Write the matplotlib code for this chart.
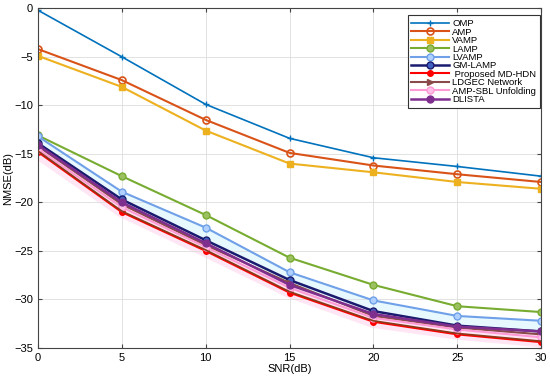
import numpy as np
import matplotlib.pyplot as plt

snr = [0, 5, 10, 15, 20, 25, 30]

omp = [-0.2, -5.0, -9.9, -13.4, -15.4, -16.3, -17.3]
amp = [-4.2, -7.4, -11.5, -14.9, -16.2, -17.1, -17.9]
vamp = [-4.9, -8.1, -12.6, -16.0, -16.9, -17.9, -18.6]
lamp = [-13.1, -17.3, -21.3, -25.7, -28.5, -30.7, -31.3]
lvamp = [-13.2, -18.9, -22.6, -27.2, -30.1, -31.7, -32.2]
gm_lamp = [-13.9, -19.7, -23.9, -28.0, -31.2, -32.7, -33.3]
md_hdn = [-14.8, -21.0, -25.0, -29.3, -32.3, -33.6, -34.4]
ldgec = [-14.2, -20.2, -24.4, -28.3, -31.7, -32.9, -33.6]
amp_sbl = [-14.5, -20.5, -24.6, -28.8, -31.9, -33.1, -33.9]
dlista = [-14.1, -20.0, -24.2, -28.5, -31.5, -32.8, -33.3]

plt.rcParams['font.family'] = 'Liberation Sans'
fig = plt.figure(figsize=(5.5, 3.77), dpi=100)
ax = fig.add_axes([0.069, 0.077, 0.915, 0.901])

# soft shaded bands behind the curves
ax.plot(snr, [v - 0.6 for v in lvamp], color='#d8f6ff', lw=8, alpha=0.6, zorder=1)
ax.plot(snr, [v - 0.4 for v in amp_sbl], color='#ffd6ee', lw=9, alpha=0.6, zorder=1)

ax.plot(snr, omp, color='#0072bd', lw=1.2, marker='+', ms=5, label='OMP')
ax.plot(snr, amp, color='#d95319', lw=1.5, marker='o', ms=5, mfc='none', mew=1.2, label='AMP')
ax.plot(snr, vamp, color='#edb120', lw=1.5, marker='s', ms=4, label='VAMP')
ax.plot(snr, lamp, color='#77ac30', lw=1.5, marker='o', ms=5, mfc='#9cc060', label='LAMP')
ax.plot(snr, lvamp, color='#6fa0e8', lw=1.5, marker='o', ms=5, mfc='#b0d0ff', mec='#6fa0e8', label='LVAMP')
ax.plot(snr, gm_lamp, color='#1a1a6e', lw=1.8, marker='o', ms=5, mfc='#4060c0', label='GM-LAMP')
ax.plot(snr, md_hdn, color='#ff0000', lw=1.5, marker='o', ms=4, label=' Proposed MD-HDN')
ax.plot(snr, ldgec, color='#8b4a4a', lw=1.5, marker='>', ms=5, label='LDGEC Network')
ax.plot(snr, amp_sbl, color='#ff9ad5', lw=1.5, marker='o', ms=5, mfc='#ffc0e8', label='AMP-SBL Unfolding')
ax.plot(snr, dlista, color='#7e2f8e', lw=1.8, marker='o', ms=5, label='DLISTA')

# brown lower line drawn over red, as in the figure
ax.plot(snr, [v + 0.1 for v in md_hdn], color='#8b3a1a', lw=1.2, zorder=3)

ax.set_xlim(0, 30)
ax.set_ylim(-35, 0)
ax.set_xticks(snr)
ax.set_yticks(np.arange(-35, 1, 5))
ax.grid(True, color='#dddddd', lw=0.6)
for s in ax.spines.values():
    s.set_color('#444444')
ax.tick_params(direction='in', labelsize=8, length=3, top=True, right=True, color='#444444')
ax.set_xlabel('SNR(dB)', fontsize=8, labelpad=1)
ax.set_ylabel('NMSE(dB)', fontsize=8, labelpad=1)

leg = ax.legend(loc='upper right', fontsize=6.8, fancybox=False, framealpha=1,
                edgecolor='#333333', borderpad=0.4, labelspacing=-0.06,
                handlelength=4.0, handletextpad=0.35, borderaxespad=0,
                bbox_to_anchor=(0.998, 0.979))
leg.get_frame().set_linewidth(0.8)

plt.savefig('out.png', dpi=100)
